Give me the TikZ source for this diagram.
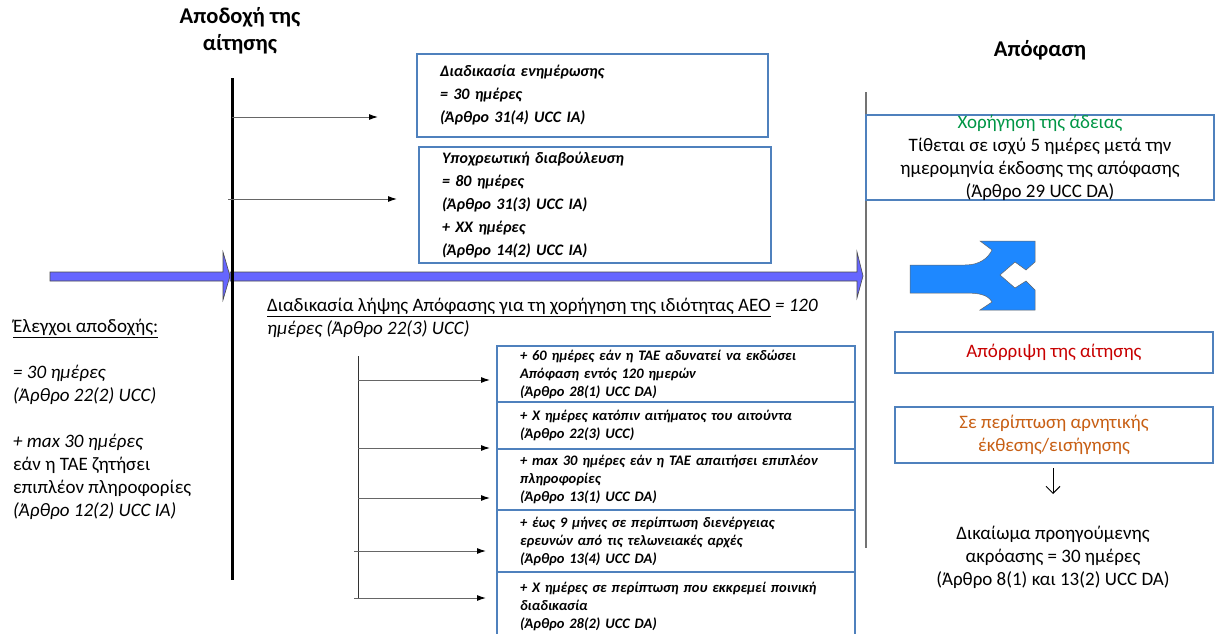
\documentclass[tikz,border=0pt]{standalone}
\usepackage{fontspec}
\setmainfont{Carlito}
\usetikzlibrary{arrows.meta}
\definecolor{boxblue}{RGB}{79,129,189}
\definecolor{tlblue}{RGB}{102,102,255}
\definecolor{forkblue}{RGB}{30,136,255}
\definecolor{grantgreen}{RGB}{0,150,70}
\definecolor{rejred}{RGB}{200,0,0}
\definecolor{negorange}{RGB}{200,95,20}
\begin{document}
\begin{tikzpicture}[x=1pt,y=-1pt,
  bx/.style={draw=boxblue, line width=1.8pt, inner ysep=0pt, align=left},
  rbx/.style={draw=boxblue, line width=1.8pt, inner sep=0pt, align=center},
  conn/.style={draw=black!60, line width=1pt, -{Latex[length=9pt,width=6pt,color=black]}},
  titletxt/.style={font=\fontsize{22.5}{27}\selectfont\bfseries, align=center, inner sep=0pt},
  maintxt/.style={font=\fontsize{19}{23}\selectfont, inner sep=0pt},
  bigbox/.style={bx, font=\fontsize{16}{23}\selectfont\bfseries\itshape, inner xsep=23pt},
  smallbox/.style={bx, font=\fontsize{14.5}{18}\selectfont\bfseries\itshape, inner xsep=23pt, text width=312pt, minimum width=358pt},
  timeline/.style={fill=tlblue, draw=black!70, line width=0.6pt}
]
\useasboundingbox (0,0) rectangle (1215,634);
\fill[white] (0,0) rectangle (1215,634);

% titles
\node[titletxt] (t1) at (240,31) {Αποδοχή της\\αίτησης};
\node[titletxt] (t2) at (1040,50) {Απόφαση};

% timeline arrows
\draw[timeline] (50,272) -- (223,272) -- (223,252) -- (230,276) -- (223,300) -- (223,281) -- (50,281) -- cycle;
\draw[timeline] (230,272) -- (857,272) -- (857,252) -- (863,276) -- (857,298) -- (857,281) -- (230,281) -- cycle;

% vertical lines
\coordinate (vtop) at (232,78);
\coordinate (vbot) at (232,580);
\draw[line width=3pt] (vtop) -- (vbot);
\coordinate (gtop) at (866,92);
\coordinate (gbot) at (866,548);
\draw[black!55, line width=1.2pt] (gtop) -- (gbot);
\coordinate (ltop) at (358,356);
\coordinate (lbot) at (358,598);
\draw[black!80, line width=1pt] (ltop) -- (lbot);

% upper boxes
\node[bigbox, text width=305pt, minimum width=351pt, minimum height=83pt] (b1) at (592.5,95.5)
  {Διαδικασία ενημέρωσης\\= 30 ημέρες\\(Άρθρο 31(4) UCC IA)};
\node[bigbox, text width=306pt, minimum width=352pt, minimum height=116pt] (b2) at (595,205)
  {Υποχρεωτική διαβούλευση\\= 80 ημέρες\\(Άρθρο 31(3) UCC IA)\\+ XX ημέρες\\(Άρθρο 14(2) UCC IA)};

\coordinate (s1) at (232,117); \coordinate (e1) at (378,117);
\coordinate (s2) at (228,199); \coordinate (e2) at (397,199);
\draw[conn] (s1) -- (e1);
\draw[conn] (s2) -- (e2);

% left text
\node[maintxt, anchor=west, align=left] (left) at (13,419.5)
  {\underline{Έλεγχοι αποδοχής:}\\[23pt]
   \itshape = 30 ημέρες\\
   \itshape (Άρθρο 22(2) UCC)\\[23pt]
   \itshape + max 30 ημέρες\\
   εάν η ΤΑΕ ζητήσει\\
   επιπλέον πληροφορίες\\
   \itshape (Άρθρο 12(2) UCC IA)};

% decision procedure title
\node[maintxt, anchor=west, align=left] (proc) at (267,317.5)
  {\underline{Διαδικασία λήψης Απόφασης για τη χορήγηση της ιδιότητας AEO} \textit{= 120}\\
   \itshape ημέρες (Άρθρο 22(3) UCC)};

% lower stacked boxes
\node[smallbox, minimum height=56pt] (c1) at (676,374)
  {+ 60 ημέρες εάν η ΤΑΕ αδυνατεί να εκδώσει\\Απόφαση εντός 120 ημερών\\(Άρθρο 28(1) UCC DA)};
\node[smallbox, minimum height=47pt] (c2) at (676,425.5)
  {+ X ημέρες κατόπιν αιτήματος του αιτούντα\\(Άρθρο 22(3) UCC)};
\node[smallbox, minimum height=61pt] (c3) at (676,479.5)
  {+ max 30 ημέρες εάν η ΤΑΕ απαιτήσει επιπλέον\\πληροφορίες\\(Άρθρο 13(1) UCC DA)};
\node[smallbox, minimum height=62pt] (c4) at (676,541)
  {+ έως 9 μήνες σε περίπτωση διενέργειας\\ερευνών από τις τελωνειακές αρχές\\(Άρθρο 13(4) UCC DA)};
\node[smallbox, minimum height=68pt] (c5) at (676,606)
  {+ Χ ημέρες σε περίπτωση που εκκρεμεί ποινική\\διαδικασία\\(Άρθρο 28(2) UCC DA)};

\coordinate (p1) at (358,380); \coordinate (q1) at (490,380);
\coordinate (p2) at (358,448); \coordinate (q2) at (490,448);
\coordinate (p3) at (358,498); \coordinate (q3) at (490,498);
\coordinate (p4) at (354,551); \coordinate (q4) at (486,551);
\coordinate (p5) at (354,598); \coordinate (q5) at (486,598);
\foreach \i in {1,...,5} \draw[conn] (p\i) -- (q\i);

% right side
\node[rbx, minimum width=348pt, minimum height=83pt, font=\fontsize{19}{23}\selectfont] (grant) at (1040,157.5)
  {\textcolor{grantgreen}{Χορήγηση της άδειας}\\Τίθεται σε ισχύ 5 ημέρες μετά την\\ημερομηνία έκδοσης της απόφασης\\(Άρθρο 29 UCC DA)};

% fork arrow
\fill[forkblue, draw=black!60, line width=0.5pt]
  (910,265) -- (965,265) .. controls (980,265) and (988,258) .. (992,250) -- (980,241) -- (1035,241)
  -- (1035,262) -- (1026,270) -- (1015,262) -- (1000,275) -- (1015,288) -- (1026,281) -- (1035,290)
  -- (1035,310) -- (980,310) -- (992,302) .. controls (988,295) and (980,293) .. (965,293) -- (910,293) -- cycle;

\node[rbx, minimum width=318pt, minimum height=41pt, font=\fontsize{19}{23}\selectfont] (rej) at (1054,352.5)
  {\textcolor{rejred}{Απόρριψη της αίτησης}};
\node[rbx, minimum width=318pt, minimum height=56pt, font=\fontsize{19}{23}\selectfont] (neg) at (1054,435)
  {\textcolor{negorange}{Σε περίπτωση αρνητικής}\\\textcolor{negorange}{έκθεσης/εισήγησης}};

\coordinate (dstart) at (1053,468);
\coordinate (dend) at (1053,494);
\draw[line width=1pt, -{Straight Barb[length=7pt,width=14pt]}] (dstart) -- (dend);

\node[maintxt, align=center] (hear) at (1053,557)
  {Δικαίωμα προηγούμενης\\ακρόασης = 30 ημέρες\\(Άρθρο 8(1) και 13(2) UCC DA)};
\end{tikzpicture}
\end{document}
